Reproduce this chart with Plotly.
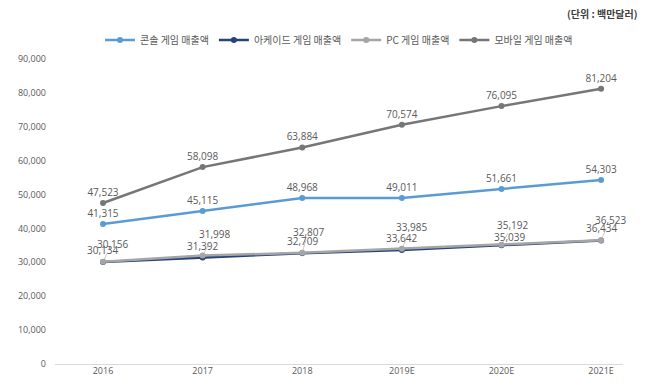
import plotly.graph_objects as go

years = ["2016", "2017", "2018", "2019E", "2020E", "2021E"]
console = [41315, 45115, 48968, 49011, 51661, 54303]
arcade = [30134, 31392, 32709, 33642, 35039, 36434]
pc = [30156, 31998, 32807, 33985, 35192, 36523]
mobile = [47523, 58098, 63884, 70574, 76095, 81204]

names = ["콘솔 게임 매출액", "아케이드 게임 매출액", "PC 게임 매출액", "모바일 게임 매출액"]
colors = ["#5B9BD5", "#264478", "#A5A5A5", "#767676"]

# label pixel offsets (style only)
pc_off = [(9, -18), (12, -22), (6, -21), (10, -22), (11, -20), (9, -20)]
arc_off = [(-1, -12), (0, -12), (0, -12), (0, -12), (8, -8), (0, -13)]

x = list(range(len(years)))
font = "Open Sans, Noto Sans CJK KR, sans-serif"
kfont = "Noto Sans CJK KR, sans-serif"
lab_color = "#595959"

fig = go.Figure()
for vals, name, col, showtext in [
    (console, names[0], colors[0], True),
    (arcade, names[1], colors[1], False),
    (pc, names[2], colors[2], False),
    (mobile, names[3], colors[3], True),
]:
    fig.add_trace(go.Scatter(
        x=x, y=vals, name=name, mode="lines+markers+text" if showtext else "lines+markers",
        line=dict(color=col, width=2.5), marker=dict(color=col, size=6),
        text=[f"{v:,}" for v in vals] if showtext else None,
        textposition="top center", textfont=dict(size=10, color=lab_color, family=font),
        cliponaxis=False,
    ))

annotations = []
for i, v in enumerate(arcade):
    dx, dy = arc_off[i]
    annotations.append(dict(x=x[i], y=v, text=f"{v:,}", showarrow=False, xshift=dx, yshift=-dy,
                            font=dict(size=10, color=lab_color, family=font)))
for i, v in enumerate(pc):
    dx, dy = pc_off[i]
    annotations.append(dict(x=x[i], y=v, text=f"{v:,}", showarrow=True, arrowhead=0, arrowwidth=0.6,
                            arrowcolor="#A5A5A5", ax=dx, ay=dy, standoff=3,
                            font=dict(size=10, color=lab_color, family=font)))
annotations.append(dict(xref="paper", yref="paper", x=1.03, y=1.15, xanchor="right", yanchor="middle",
                        text="<b>(단위 : 백만달러)</b>", showarrow=False,
                        font=dict(size=10, color="#404040", family=kfont)))

fig.update_layout(
    width=653, height=388,
    margin=dict(l=55, r=30, t=59, b=24, autoexpand=False),
    paper_bgcolor="white", plot_bgcolor="white",
    font=dict(family=font, color=lab_color, size=10),
    legend=dict(orientation="h", x=0.5, xanchor="center", y=1.062, yanchor="middle",
                font=dict(size=10, color=lab_color, family=kfont), itemwidth=30, traceorder="normal"),
    annotations=annotations,
    showlegend=True,
)
fig.update_xaxes(tickvals=x, ticktext=years, range=[-0.482, 5.22], showgrid=False, automargin=False,
                 showline=False, zeroline=False, ticks="", tickfont=dict(size=9, color=lab_color))
fig.update_yaxes(range=[0, 90000], dtick=10000, tickformat=",", showgrid=False, automargin=False,
                 zeroline=True, zerolinecolor="#D9D9D9", zerolinewidth=1,
                 ticks="", ticklabelstandoff=8, tickfont=dict(size=9, color=lab_color))

fig.write_html("out.html", config={"displayModeBar": False},
               post_script="document.body.style.margin='0';document.body.style.overflow='hidden';")
